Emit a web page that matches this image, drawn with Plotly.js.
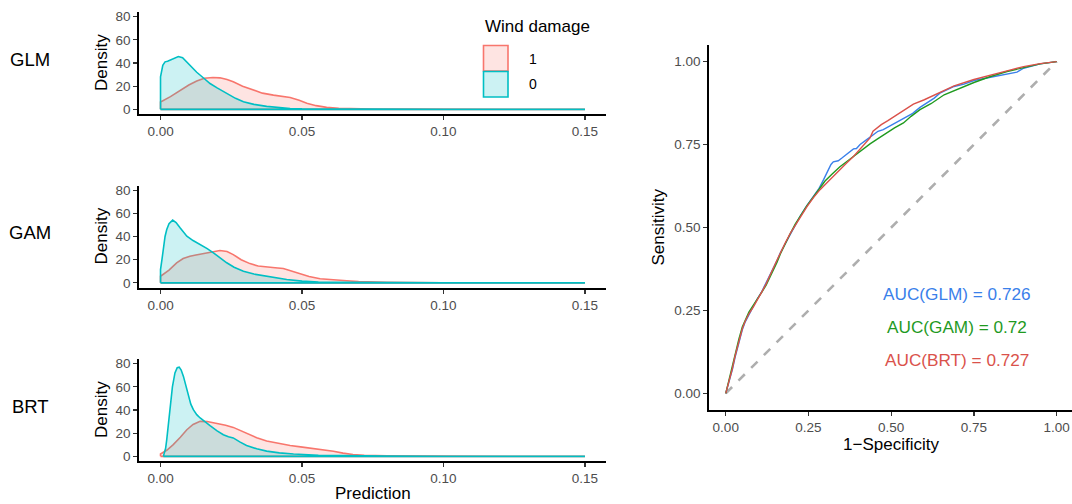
<!DOCTYPE html>
<html>
<head>
<meta charset="utf-8">
<script src="https://cdn.plot.ly/plotly-3.0.1.min.js"></script>
<style>html,body{margin:0;padding:0;background:#fff;}#chart{width:1072px;height:504px;}</style>
</head>
<body>
<div id="chart"></div>
<script>
// ---------- Density data (Prediction vs Density) ----------
const modelNames = ["GLM", "GAM", "BRT"];
const classLabels = ["1", "0"];
const legendTitle = "Wind damage";

const glmX1 = [0, 0.0035, 0.0069, 0.01, 0.0128, 0.0155, 0.0185, 0.021, 0.0235, 0.0257, 0.029, 0.0328, 0.036, 0.0399, 0.043, 0.0458, 0.049, 0.0517, 0.055, 0.0587, 0.063, 0.067, 0.075, 0.09, 0.11, 0.15];
const glmY1 = [6.3, 11, 16.3, 21, 24.5, 26.8, 27.5, 27.2, 25.8, 23.8, 20, 16.5, 14, 12.3, 11.4, 10.2, 7.8, 5.3, 3.2, 1.7, 0.9, 0.5, 0.3, 0.2, 0.05, 0];
const glmX0 = [0, 0.0008, 0.0016, 0.0025, 0.0035, 0.005, 0.0063, 0.0078, 0.0093, 0.011, 0.0128, 0.015, 0.0175, 0.02, 0.0234, 0.0265, 0.0293, 0.033, 0.0375, 0.042, 0.0458, 0.05, 0.06, 0.08, 0.1, 0.15];
const glmY0 = [28, 38, 41, 41.5, 42.5, 44.5, 45.6, 44.5, 40.5, 36, 32, 27.5, 22.3, 18.5, 13.8, 9.5, 6.6, 4.3, 2.6, 1.3, 0.7, 0.4, 0.2, 0.1, 0.05, 0];

const gamX1 = [0, 0.003, 0.0057, 0.008, 0.0104, 0.0125, 0.0151, 0.018, 0.021, 0.0235, 0.0257, 0.0285, 0.0316, 0.0345, 0.0375, 0.0405, 0.0434, 0.046, 0.0493, 0.0525, 0.0564, 0.0605, 0.0658, 0.07, 0.08, 0.1, 0.15];
const gamY1 = [5.7, 11, 17.3, 21, 23, 24, 25.3, 26.8, 27.9, 27, 24.4, 20, 16.6, 14.5, 13.5, 13, 12.4, 10.5, 7.8, 5.5, 3.6, 2.6, 1.8, 1.1, 0.5, 0.1, 0];
const gamX0 = [0, 0.0005, 0.001, 0.0016, 0.0022, 0.003, 0.0043, 0.0055, 0.0069, 0.0093, 0.0115, 0.014, 0.0165, 0.0187, 0.021, 0.0234, 0.026, 0.0293, 0.033, 0.0375, 0.041, 0.0446, 0.05, 0.0558, 0.065, 0.08, 0.1, 0.15];
const gamY0 = [11.5, 20, 31.6, 40, 46, 51, 54.1, 52, 47.5, 40.3, 36.5, 33.1, 29.5, 25.9, 21.5, 17.3, 13.5, 10, 7.6, 5.6, 4, 2.9, 1.5, 0.8, 0.4, 0.2, 0.1, 0];

const brtX1 = [0, 0.0023, 0.0045, 0.007, 0.0093, 0.0115, 0.014, 0.0165, 0.0199, 0.023, 0.0257, 0.028, 0.0304, 0.034, 0.0375, 0.042, 0.0458, 0.0495, 0.0528, 0.057, 0.0611, 0.0645, 0.068, 0.072, 0.08, 0.1, 0.12, 0.15];
const brtY1 = [2, 5.5, 10.1, 16.5, 23, 27.5, 30.2, 30, 28.5, 26.8, 25, 22.5, 19.5, 16, 13.2, 10.8, 9.3, 8.2, 7.3, 6, 4.4, 2.8, 1.6, 0.9, 0.5, 0.2, 0.05, 0];
const brtX0 = [0.001, 0.0012, 0.0018, 0.0022, 0.0028, 0.0033, 0.0042, 0.0051, 0.0059, 0.0066, 0.0073, 0.0081, 0.009, 0.0098, 0.0107, 0.0116, 0.0128, 0.014, 0.0158, 0.0175, 0.02, 0.0222, 0.024, 0.0257, 0.028, 0.0304, 0.034, 0.0375, 0.042, 0.047, 0.0558, 0.065, 0.08, 0.1, 0.15];
const brtY0 = [0, 2, 7, 14.4, 28, 43.1, 60, 72, 76.5, 77, 74.5, 69, 60, 51.8, 45, 40.3, 36, 33.1, 29.5, 26.5, 22, 18.7, 17, 15.9, 12.5, 9.4, 6.5, 4.5, 3, 2, 0.9, 0.4, 0.2, 0.1, 0];

// ---------- ROC data ----------
const rocNames = ["GLM", "GAM", "BRT"];
const aucValues = ["0.726", "0.72", "0.727"];
const glmFpr = [0, 0.006, 0.013, 0.02, 0.028, 0.04, 0.05, 0.058, 0.07, 0.083, 0.096, 0.109, 0.122, 0.134, 0.145, 0.155, 0.165, 0.18, 0.195, 0.21, 0.225, 0.245, 0.265, 0.282, 0.296, 0.31, 0.318, 0.325, 0.34, 0.352, 0.366, 0.386, 0.395, 0.406, 0.426, 0.446, 0.46, 0.476, 0.506, 0.527, 0.547, 0.565, 0.587, 0.61, 0.63, 0.647, 0.69, 0.72, 0.75, 0.8, 0.85, 0.88, 0.9, 0.95, 1];
const glmTpr = [0, 0.02, 0.042, 0.072, 0.108, 0.158, 0.192, 0.214, 0.238, 0.262, 0.286, 0.307, 0.332, 0.356, 0.38, 0.4, 0.424, 0.452, 0.48, 0.507, 0.534, 0.566, 0.594, 0.618, 0.645, 0.672, 0.69, 0.698, 0.701, 0.71, 0.722, 0.737, 0.738, 0.75, 0.765, 0.781, 0.79, 0.795, 0.812, 0.822, 0.835, 0.844, 0.862, 0.878, 0.89, 0.905, 0.925, 0.932, 0.943, 0.953, 0.963, 0.968, 0.98, 0.993, 1];
const gamFpr = [0, 0.006, 0.013, 0.02, 0.028, 0.04, 0.05, 0.058, 0.07, 0.083, 0.096, 0.109, 0.122, 0.134, 0.145, 0.155, 0.165, 0.18, 0.195, 0.21, 0.225, 0.245, 0.265, 0.285, 0.3, 0.32, 0.345, 0.365, 0.386, 0.41, 0.436, 0.46, 0.486, 0.51, 0.537, 0.56, 0.587, 0.62, 0.66, 0.7, 0.75, 0.8, 0.85, 0.9, 0.95, 1];
const gamTpr = [0, 0.025, 0.05, 0.082, 0.118, 0.165, 0.2, 0.22, 0.245, 0.265, 0.287, 0.305, 0.326, 0.35, 0.372, 0.395, 0.42, 0.452, 0.482, 0.51, 0.535, 0.565, 0.592, 0.62, 0.64, 0.66, 0.683, 0.698, 0.714, 0.733, 0.752, 0.768, 0.785, 0.8, 0.815, 0.835, 0.855, 0.873, 0.9, 0.917, 0.937, 0.955, 0.97, 0.982, 0.993, 1];
const brtFpr = [0, 0.006, 0.013, 0.02, 0.028, 0.04, 0.05, 0.058, 0.07, 0.083, 0.096, 0.109, 0.122, 0.134, 0.145, 0.155, 0.165, 0.18, 0.195, 0.21, 0.225, 0.245, 0.265, 0.285, 0.305, 0.325, 0.345, 0.366, 0.386, 0.405, 0.42, 0.436, 0.445, 0.47, 0.49, 0.527, 0.567, 0.6, 0.647, 0.69, 0.75, 0.8, 0.85, 0.9, 0.95, 1];
const brtTpr = [0, 0.022, 0.045, 0.075, 0.112, 0.16, 0.195, 0.216, 0.24, 0.26, 0.285, 0.306, 0.33, 0.354, 0.38, 0.402, 0.425, 0.454, 0.482, 0.506, 0.532, 0.562, 0.59, 0.614, 0.634, 0.655, 0.675, 0.695, 0.714, 0.735, 0.752, 0.77, 0.79, 0.81, 0.822, 0.845, 0.872, 0.885, 0.907, 0.927, 0.946, 0.96, 0.972, 0.985, 0.994, 1];
const chanceX = [0, 1];
const chanceY = [0, 1];

// ---------- styling ----------
const W = 1072, H = 504;
const FONT = "Liberation Sans, Arial, Helvetica, sans-serif";
const RED = "#F8766D", TEAL = "#00BFC4";
const RED_FILL = "rgba(248,118,109,0.2)", TEAL_FILL = "rgba(0,191,196,0.2)";
const ROC_COLORS = ["#3A80EA", "#1F9A1F", "#DA524B"];
const px = v => v / W;
const py = v => 1 - v / H;

function closed(xs, ys) {
  return {
    x: [xs[0]].concat(xs, [xs[xs.length - 1], xs[0]]),
    y: [0].concat(ys, [0, 0])
  };
}
const densSets = [
  [glmX1, glmY1, glmX0, glmY0],
  [gamX1, gamY1, gamX0, gamY0],
  [brtX1, brtY1, brtX0, brtY0]
];
const traces = [];
densSets.forEach((s, i) => {
  const ax = i === 0 ? "" : String(i + 1);
  const a = closed(s[0], s[1]);
  const b = closed(s[2], s[3]);
  traces.push({x: a.x, y: a.y, xaxis: "x" + ax, yaxis: "y" + ax, type: "scatter", mode: "lines",
    fill: "toself", fillcolor: RED_FILL, line: {color: RED, width: 1.6}, showlegend: false, hoverinfo: "skip"});
  traces.push({x: b.x, y: b.y, xaxis: "x" + ax, yaxis: "y" + ax, type: "scatter", mode: "lines",
    fill: "toself", fillcolor: TEAL_FILL, line: {color: TEAL, width: 1.6}, showlegend: false, hoverinfo: "skip"});
});
traces.push({x: chanceX, y: chanceY, xaxis: "x4", yaxis: "y4", type: "scatter", mode: "lines",
  line: {color: "#AEAEAE", width: 2.6, dash: "dash"}, showlegend: false, hoverinfo: "skip"});
const rocSets = [[glmFpr, glmTpr], [gamFpr, gamTpr], [brtFpr, brtTpr]];
rocSets.forEach((r, i) => {
  traces.push({x: r[0], y: r[1], xaxis: "x4", yaxis: "y4", type: "scatter", mode: "lines",
    line: {color: ROC_COLORS[i], width: 1.4}, showlegend: false, hoverinfo: "skip"});
});

const tickfont = {family: FONT, size: 13.5, color: "#4D4D4D"};
function axis(extra) {
  return Object.assign({
    showgrid: false, zeroline: false, showline: true, linecolor: "#000", linewidth: 2,
    ticks: "outside", ticklen: 4, tickwidth: 1.1, tickcolor: "#333", tickfont: tickfont,
    fixedrange: true
  }, extra);
}
const leftDom = [px(139.3), px(606.2)];
const densX = {range: [-0.0075, 0.1575], tickvals: [0, 0.05, 0.1, 0.15], tickformat: ".2f", domain: leftDom};
const densY = {range: [-4, 84], tickvals: [0, 20, 40, 60, 80]};

const panelTB = [[12, 114], [185.5, 287.5], [359, 461]];
const layout = {
  width: W, height: H,
  margin: {l: 0, r: 0, t: 0, b: 0},
  paper_bgcolor: "#fff", plot_bgcolor: "rgba(0,0,0,0)",
  showlegend: false,
  font: {family: FONT},
  xaxis: axis(Object.assign({anchor: "y"}, densX)),
  yaxis: axis(Object.assign({anchor: "x", domain: [py(panelTB[0][1]), py(panelTB[0][0])]}, densY)),
  xaxis2: axis(Object.assign({anchor: "y2"}, densX)),
  yaxis2: axis(Object.assign({anchor: "x2", domain: [py(panelTB[1][1]), py(panelTB[1][0])]}, densY)),
  xaxis3: axis(Object.assign({anchor: "y3"}, densX)),
  yaxis3: axis(Object.assign({anchor: "x3", domain: [py(panelTB[2][1]), py(panelTB[2][0])]}, densY)),
  xaxis4: axis({anchor: "y4", domain: [px(709.2), 1], range: [-0.05, 1.0463], tickvals: [0, 0.25, 0.5, 0.75, 1], tickformat: ".2f"}),
  yaxis4: axis({anchor: "x4", domain: [py(410), py(45)], range: [-0.05, 1.05], tickvals: [0, 0.25, 0.5, 0.75, 1], tickformat: ".2f"}),
  annotations: [],
  shapes: []
};

const titleFont = {family: FONT, size: 17, color: "#000"};
// Row labels and Density titles
modelNames.forEach((m, i) => {
  const cy = (panelTB[i][0] + panelTB[i][1]) / 2;
  layout.annotations.push({text: m, xref: "paper", yref: "paper", x: px(30), y: py(cy - 4),
    xanchor: "center", yanchor: "middle", showarrow: false, font: {family: FONT, size: 18.5, color: "#000"}});
  layout.annotations.push({text: "Density", xref: "paper", yref: "paper", x: px(101), y: py(cy),
    xanchor: "center", yanchor: "middle", textangle: -90, showarrow: false, font: titleFont});
});
layout.annotations.push({text: "Prediction", xref: "paper", yref: "paper", x: px(372.5), y: py(493),
  xanchor: "center", yanchor: "middle", showarrow: false, font: titleFont});
layout.annotations.push({text: "1\u2212Specificity", xref: "paper", yref: "paper", x: px(891), y: py(444),
  xanchor: "center", yanchor: "middle", showarrow: false, font: titleFont});
layout.annotations.push({text: "Sensitivity", xref: "paper", yref: "paper", x: px(658), y: py(227.5),
  xanchor: "center", yanchor: "middle", textangle: -90, showarrow: false, font: titleFont});

// AUC labels
const aucY = [0.3, 0.2, 0.1];
rocNames.forEach((n, i) => {
  layout.annotations.push({text: "AUC(" + n + ") = " + aucValues[i], xref: "x4", yref: "y4", x: 0.7, y: aucY[i],
    xanchor: "center", yanchor: "middle", showarrow: false, font: {family: FONT, size: 17.2, color: ROC_COLORS[i]}});
});

// Legend (manual)
layout.annotations.push({text: legendTitle, xref: "paper", yref: "paper", x: px(483), y: py(26),
  xanchor: "left", yanchor: "middle", showarrow: false, font: titleFont});
const keyColors = [[RED, RED_FILL], [TEAL, TEAL_FILL]];
const keyTops = [45.5, 71.5];
classLabels.forEach((c, i) => {
  layout.shapes.push({type: "rect", xref: "paper", yref: "paper",
    x0: px(483.5), x1: px(508), y0: py(keyTops[i] + 25.5), y1: py(keyTops[i]),
    line: {color: keyColors[i][0], width: 1.6}, fillcolor: keyColors[i][1]});
  layout.annotations.push({text: c, xref: "paper", yref: "paper", x: px(527), y: py(keyTops[i] + 13),
    xanchor: "left", yanchor: "middle", showarrow: false, font: {family: FONT, size: 14, color: "#000"}});
});

Plotly.newPlot("chart", traces, layout, {staticPlot: true, displayModeBar: false});
</script>
</body>
</html>
